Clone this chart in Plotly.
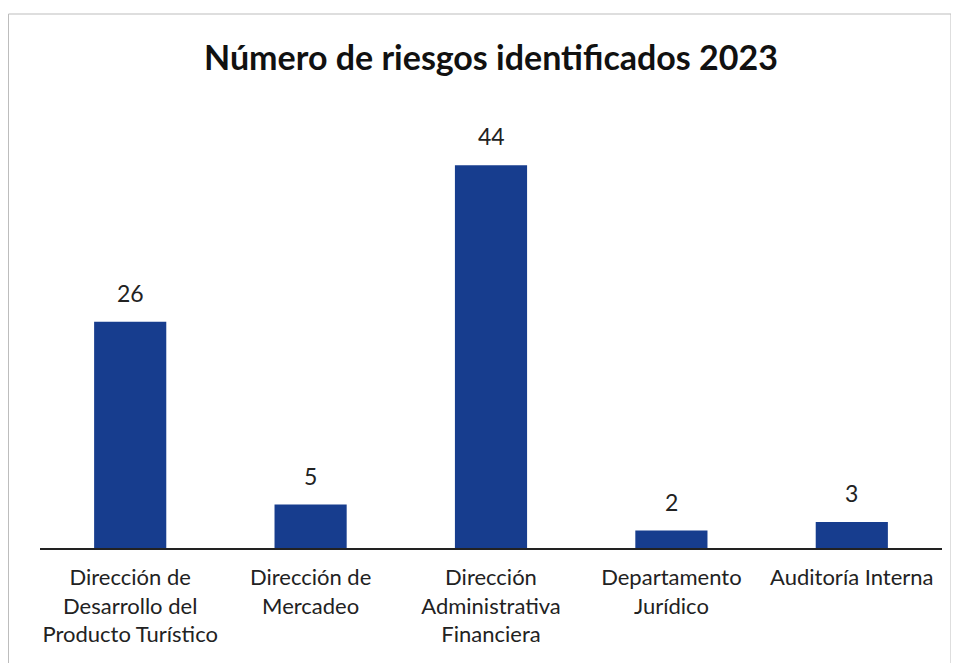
import plotly.graph_objects as go

categories = [
    "Dirección de<br>Desarrollo del<br>Producto Turístico",
    "Dirección de<br>Mercadeo",
    "Dirección<br>Administrativa<br>Financiera",
    "Departamento<br>Jurídico",
    "Auditoría Interna",
]
values = [26, 5, 44, 2, 3]
title_text = "Número de riesgos identificados 2023"

# page body has an 8px margin; figure is sized so the page fits the window
OFF = 8
W, H = 959 - OFF, 663 - OFF
ml, mr, mt, mb = 40 - OFF, 17, 113 - OFF, 115
pw, ph = W - ml - mr, H - mt - mb

def px_x(p):
    return (p - OFF - ml) / pw

def px_y(p):
    return (H - mb - (p - OFF)) / ph

fig = go.Figure()
fig.add_trace(go.Bar(
    x=categories, y=values,
    marker=dict(color="#173d8e", line=dict(width=0)),
    hoverinfo="skip",
))

for c, v in zip(categories, values):
    fig.add_annotation(x=c, y=v, text=str(v), showarrow=False,
                       yanchor="bottom", yshift=13,
                       font=dict(family="Lato", size=23, color="#222222"))

fig.add_shape(type="rect", xref="paper", yref="paper",
              x0=px_x(8.5), x1=px_x(951), y0=px_y(680), y1=px_y(14),
              line=dict(color="#bdbdbd", width=1), fillcolor="rgba(0,0,0,0)")

fig.update_layout(
    width=W, height=H,
    margin=dict(l=ml, r=mr, t=mt, b=mb),
    paper_bgcolor="white", plot_bgcolor="white",
    bargap=0.6,
    showlegend=False,
    title=dict(text="<b>" + title_text + "</b>", x=px_x(491), xanchor="center",
               xref="paper",
               y=1 - (58 - OFF) / H, yanchor="middle",
               font=dict(family="Lato", size=34, color="#111111")),
    xaxis=dict(showline=True, linecolor="#222222", linewidth=1.5,
               ticks="", showgrid=False, ticklabelstandoff=9,
               tickfont=dict(family="Lato", size=22, color="#222222")),
    yaxis=dict(range=[0, 50], visible=False, showgrid=False),
)

fig.write_html("out.html")
